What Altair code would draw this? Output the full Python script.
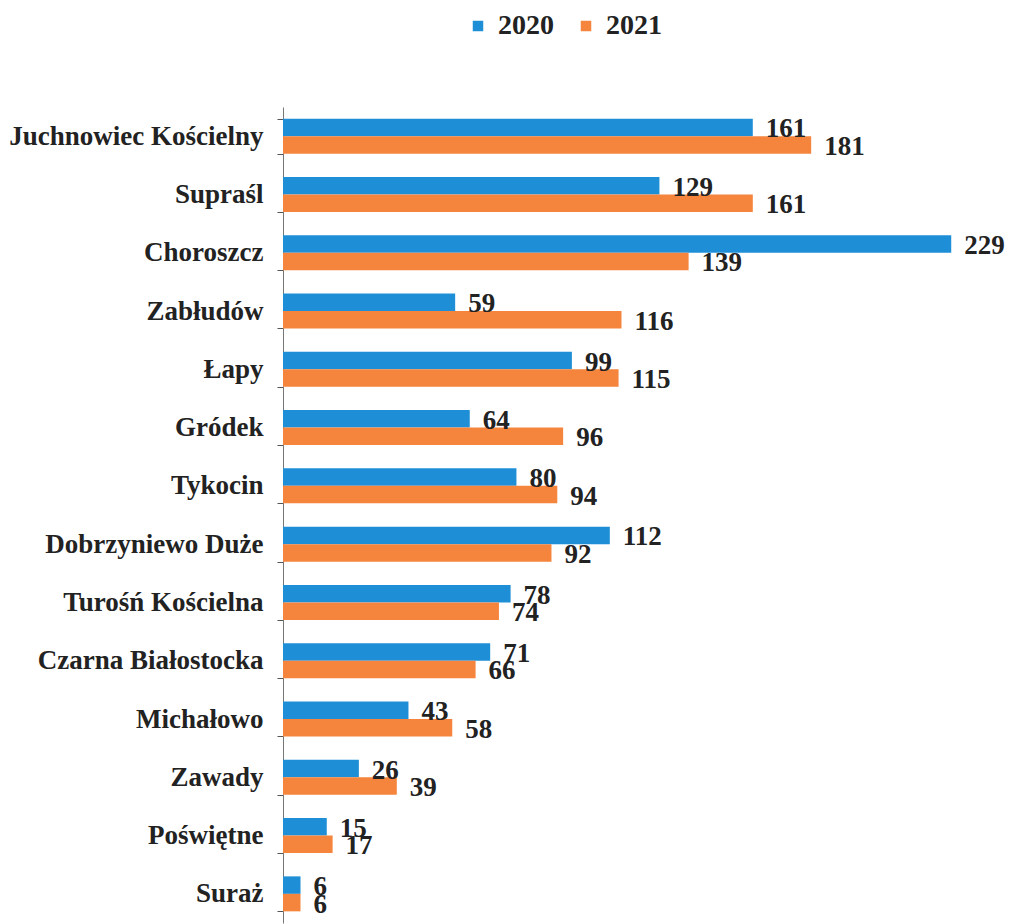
import altair as alt
import pandas as pd

categories = ["Juchnowiec Kościelny", "Supraśl", "Choroszcz", "Zabłudów", "Łapy",
              "Gródek", "Tykocin", "Dobrzyniewo Duże", "Turośń Kościelna",
              "Czarna Białostocka", "Michałowo", "Zawady", "Poświętne", "Suraż"]
values_2020 = [161, 129, 229, 59, 99, 64, 80, 112, 78, 71, 43, 26, 15, 6]
values_2021 = [181, 161, 139, 116, 115, 96, 94, 92, 74, 66, 58, 39, 17, 6]
years = ["2020", "2021"]
colors = ["#1e8fd6", "#f5843d"]

rows = []
for c, a, b in zip(categories, values_2020, values_2021):
    rows.append({"gmina": c, "rok": "2020", "wartosc": a})
    rows.append({"gmina": c, "rok": "2021", "wartosc": b})
df = pd.DataFrame(rows)

FONT = "Liberation Serif"

y_enc = alt.Y("gmina:N", sort=categories,
              scale=alt.Scale(paddingInner=0.4, paddingOuter=0.2),
              axis=alt.Axis(title=None, labelFont=FONT, labelFontSize=27,
                            labelFontWeight="bold", labelColor="#222222",
                            labelLimit=400, labelPadding=14, tickSize=6,
                            tickBand="extent", domainColor="#777777",
                            tickColor="#555555", tickWidth=1, grid=False))
x_enc = alt.X("wartosc:Q", scale=alt.Scale(domain=[0, 244]), axis=None)
yoff = alt.YOffset("rok:N", sort=years, scale=alt.Scale(paddingInner=0, paddingOuter=0))

bars = alt.Chart(df).mark_bar().encode(
    y=y_enc, x=x_enc, yOffset=yoff,
    color=alt.Color("rok:N", sort=years,
                    scale=alt.Scale(domain=years, range=colors),
                    legend=alt.Legend(title=None, orient="none", direction="horizontal",
                                      legendX=181, legendY=-95,
                                      symbolType="square", symbolSize=110,
                                      symbolStrokeWidth=0,
                                      labelFont=FONT, labelFontSize=28,
                                      labelFontWeight="bold", labelColor="#222222",
                                      labelOffset=6, columnPadding=18)),
)

labels = alt.Chart(df).mark_text(
    align="left", baseline="middle", dx=13, dy=2,
    font=FONT, fontSize=27, fontWeight="bold", color="#222222"
).encode(y=y_enc, x=x_enc, yOffset=yoff, text=alt.Text("wartosc:Q"))

chart = alt.layer(bars, labels).properties(
    width=712, height=816,
    background="white",
    autosize=alt.AutoSizeParams(type="none"),
    padding={"left": 275, "top": 99, "right": 13, "bottom": 1},
).configure_view(strokeWidth=0, stroke=None)

chart.save("out.html", embed_options={"renderer": "svg", "actions": False})
